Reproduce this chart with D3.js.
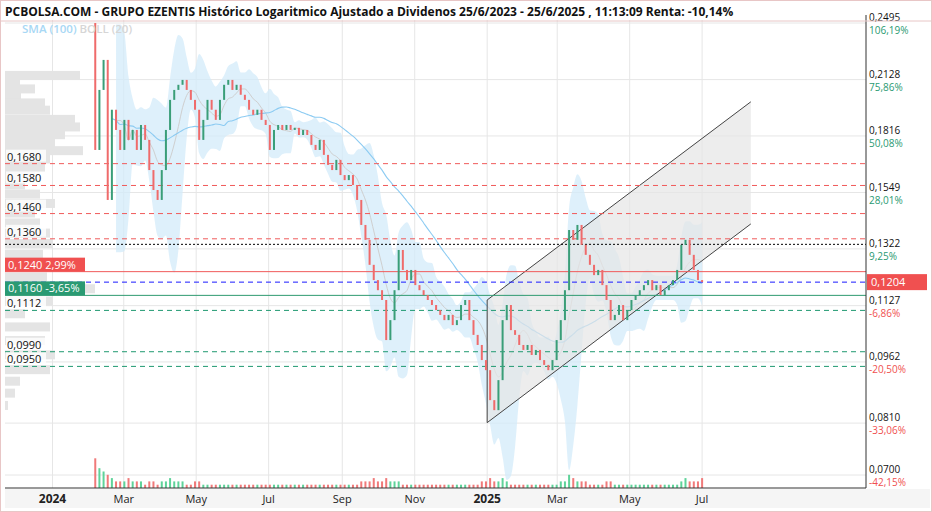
<!DOCTYPE html>
<html><head><meta charset="utf-8">
<script src="https://cdn.jsdelivr.net/npm/d3@7"></script>
<style>body{margin:0;background:#fff}svg{font-family:"Open Sans",sans-serif}</style>
</head><body><svg id="c" width="932" height="512"></svg>
<script>
const startDate = "2024-02-06";
const stepDays = 3.5;
const closes = [
0.1746,0.2067,0.2249,0.1517,0.1955,0.1847,0.1746,0.1900,0.1796,0.1847,
0.1746,0.1873,0.1796,0.1650,0.1560,0.1517,0.1650,0.1847,0.2010,0.2067,
0.2097,0.2126,0.2067,0.2010,0.1955,0.1796,0.1900,0.2010,0.1955,0.1900,
0.2010,0.2097,0.2126,0.2067,0.2097,0.2039,0.2010,0.1955,0.1927,0.1955,
0.1900,0.1873,0.1746,0.1847,0.1873,0.1847,0.1873,0.1847,0.1858,0.1821,
0.1847,0.1821,0.1771,0.1746,0.1796,0.1722,0.1674,0.1650,0.1698,0.1627,
0.1604,0.1627,0.1582,0.1517,0.1414,0.1356,0.1264,0.1211,0.1177,0.1145,
0.1023,0.1082,0.1177,0.1318,0.1246,0.1211,0.1246,0.1194,0.1177,0.1161,
0.1145,0.1129,0.1113,0.1098,0.1082,0.1098,0.1067,0.1082,0.1129,0.1145,
0.1082,0.1038,0.1009,0.0967,0.0940,0.0864,0.0840,0.0914,0.1082,0.1129,
0.1052,0.1038,0.1009,0.0995,0.1009,0.0981,0.0995,0.0967,0.0954,0.0940,
0.0967,0.1023,0.1082,0.1177,0.1394,0.1356,0.1414,0.1337,0.1300,0.1264,
0.1228,0.1246,0.1194,0.1145,0.1082,0.1098,0.1129,0.1082,0.1113,0.1145,
0.1161,0.1177,0.1194,0.1211,0.1177,0.1194,0.1161,0.1177,0.1194,0.1211,
0.1246,0.1337,0.1356,0.1300,0.1246,0.1211,0.1204];
const firstOpen = 0.2495;
const volumes = [
9,6,5,4,3,2,2,2,3,2, 2,2,1,2,2,1,2,2,3,2, 2,2,1,1,2,2,1,1,1,1,
1,1,1,1,1,1,1,1,1,1, 1,1,1,1,1,1,1,1,1,1, 1,1,1,1,1,1,1,1,1,1,
1,1,1,1,2,2,2,3,2,2, 3,2,2,2,1,1,1,1,1,1, 1,1,1,1,1,1,1,1,1,1,
1,1,1,2,2,3,2,2,3,2, 1,1,1,1,1,1,1,1,1,1, 1,1,2,2,4,3,2,2,2,1,
1,1,1,2,2,1,1,1,1,1, 1,1,1,1,1,1,1,1,1,1, 1,2,3,2,2,2,3];
const yTicks = [0.2495,0.2128,0.1816,0.1549,0.1322,0.1127,0.0962,0.0810,0.0700];
const refPrice = 0.121005;
const lastPrice = 0.1204;
const redLevels = [0.1680,0.1580,0.1460,0.1360];
const greenLevels = [0.1112,0.0990,0.0950];
const dottedLevel = 0.1339;
const resistLevel = {v:0.1240,pct:"2,99%"};
const supportLevel = {v:0.1160,pct:"-3,65%"};
const channelUpper = [["2025-01-01",0.1145],["2025-08-11",0.1999]];
const channelLower = [["2025-01-01",0.0811],["2025-08-11",0.1418]];
const profilePrices = [0.215,0.211,0.207,0.203,0.199,0.195,0.190,0.186,0.182,0.178,0.174,0.170,0.166,0.162,0.158,0.154,0.150,0.146,0.142,0.138,0.134,0.130,0.126,0.122,0.118,0.114,0.110,0.106,0.102,0.098,0.094,0.091,0.088,0.085];
const profileVals = [75,15,30,16,40,45,70,75,60,50,78,45,40,30,20,35,50,30,35,45,48,38,40,42,90,48,20,45,40,50,45,15,10,3];
const monthTicks = [["2024-01-01","2024",true],["2024-03-01","Mar"],["2024-05-01","May"],["2024-07-01","Jul"],["2024-09-01","Sep"],["2024-11-01","Nov"],["2025-01-01","2025",true],["2025-03-01","Mar"],["2025-05-01","May"],["2025-07-01","Jul"]];

const svg = d3.select("#c");
const L=5, R=866, T=20, B=488;
const parse = d3.utcParse("%Y-%m-%d");
const x = d3.scaleUtc().domain([parse("2023-11-22"), parse("2025-11-16")]).range([L,R]);
const y = d3.scaleLog().domain([0.07,0.2495]).range([475,23]);
const fmt = v => v.toFixed(4).replace(".",",");
const t0 = parse(startDate);
const data = closes.map((c,i)=>({d:new Date(+t0 + i*stepDays*864e5), c, o: i?closes[i-1]:firstOpen, v:volumes[i]||1}));

svg.append("rect").attr("x",0.5).attr("y",0.5).attr("width",931).attr("height",511).attr("fill","#fff").attr("stroke","#e8c6c6");
svg.append("defs").append("clipPath").attr("id","pc").append("rect").attr("x",L).attr("y",T).attr("width",R-L).attr("height",B-T);
const g = svg.append("g").attr("clip-path","url(#pc)");

g.selectAll(".hg").data(yTicks).join("line").attr("x1",L).attr("x2",R).attr("y1",d=>y(d)).attr("y2",d=>y(d)).attr("stroke","#e6e6e6");
g.selectAll(".vg").data(monthTicks).join("line").attr("x1",d=>x(parse(d[0]))).attr("x2",d=>x(parse(d[0]))).attr("y1",T).attr("y2",B).attr("stroke","#e6e6e6");

const bh = 10;
g.selectAll(".vp").data(profilePrices).join("rect").attr("x",L).attr("y",d=>y(d)-bh/2).attr("height",bh-1)
 .attr("width",(d,i)=>profileVals[i]).attr("fill","#e4e4e4");

const W=6, S=29;
const boll = data.map((d,i)=>{ if(i<W-1) return null; const w=closes.slice(i-W+1,i+1); const m=d3.mean(w), s=d3.deviation(w); return {d:d.d,m,u:m+2.3*s,l:Math.max(0.06,m-2.3*s)};}).filter(Boolean);
g.append("path").datum(boll).attr("d",d3.area().x(d=>x(d.d)).y0(d=>y(d.l)).y1(d=>y(d.u)).curve(d3.curveMonotoneX)).attr("fill","#d3ebfa").attr("opacity",0.75);
g.append("path").datum(boll).attr("d",d3.line().x(d=>x(d.d)).y(d=>y(d.m)).curve(d3.curveMonotoneX)).attr("fill","none").attr("stroke","#cfcfcf");
const sma = data.map((d,i)=>({d:d.d,m:d3.mean(closes.slice(Math.max(0,i-S+1),i+1))})).slice(4);
g.append("path").datum(sma).attr("d",d3.line().x(d=>x(d.d)).y(d=>y(d.m)).curve(d3.curveMonotoneX)).attr("fill","none").attr("stroke","#8ccbf2").attr("stroke-width",1.1);

const cu = channelUpper.map(d=>[x(parse(d[0])),y(d[1])]), cl = channelLower.map(d=>[x(parse(d[0])),y(d[1])]);
g.append("path").attr("d",d3.line()([cu[0],cu[1],cl[1],cl[0]])+"Z").attr("fill","#e6e6e6").attr("opacity",0.7);
[cu,cl].forEach(p=>g.append("line").attr("x1",p[0][0]).attr("y1",p[0][1]).attr("x2",p[1][0]).attr("y2",p[1][1]).attr("stroke","#444"));
g.append("line").attr("x1",cu[0][0]).attr("y1",cu[0][1]).attr("x2",cl[0][0]).attr("y2",cl[0][1]).attr("stroke","#444");

g.selectAll(".rl").data(redLevels).join("line").attr("x1",L).attr("x2",R).attr("y1",d=>y(d)).attr("y2",d=>y(d)).attr("stroke","#f05a5a").attr("stroke-dasharray","5,4");
g.selectAll(".gl").data(greenLevels).join("line").attr("x1",L).attr("x2",R).attr("y1",d=>y(d)).attr("y2",d=>y(d)).attr("stroke","#1f9970").attr("stroke-dasharray","5,4");
g.append("line").attr("x1",L).attr("x2",R).attr("y1",y(dottedLevel)).attr("y2",y(dottedLevel)).attr("stroke","#000").attr("stroke-dasharray","2,2");
g.append("line").attr("x1",L).attr("x2",R).attr("y1",y(resistLevel.v)).attr("y2",y(resistLevel.v)).attr("stroke","#f05a5a");
g.append("line").attr("x1",L).attr("x2",R).attr("y1",y(supportLevel.v)).attr("y2",y(supportLevel.v)).attr("stroke","#2e9a70");
g.append("line").attr("x1",L).attr("x2",R).attr("y1",y(lastPrice)).attr("y2",y(lastPrice)).attr("stroke","#1a1aff").attr("stroke-dasharray","5,4");

const vy = d3.scaleLinear().domain([0,10]).range([B,455]);
g.selectAll(".vol").data(data).join("rect").attr("x",d=>x(d.d)-1).attr("width",2).attr("y",d=>vy(d.v)).attr("height",d=>B-vy(d.v))
 .attr("fill",d=>d.c>=d.o?"#5fd39a":"#f07a7a");

g.selectAll(".cd").data(data).join("rect").attr("x",d=>x(d.d)-1).attr("width",2)
 .attr("y",d=>y(Math.max(d.o,d.c))).attr("height",d=>Math.max(1,Math.abs(y(d.o)-y(d.c))))
 .attr("fill",d=>d.c>=d.o?"#3a9e78":"#ef6b6b");

const lt = svg.append("g").attr("font-size",11).attr("fill","#111");
redLevels.concat(greenLevels).forEach(v=>{
  lt.append("rect").attr("x",L+1).attr("y",y(v)-14).attr("width",40).attr("height",12).attr("fill","#fff").attr("opacity",0.8);
  lt.append("text").attr("x",L+2).attr("y",y(v)-3).text(fmt(v));
});
[[resistLevel,"#f05050"],[supportLevel,"#2a9a72"]].forEach(([lv,c])=>{
  const yy=y(lv.v);
  svg.append("rect").attr("x",L).attr("y",yy-14).attr("width",80).attr("height",14).attr("fill",c);
  svg.append("text").attr("x",L+3).attr("y",yy-3).attr("font-size",11).attr("fill","#fff").text(fmt(lv.v)+"  "+lv.pct);
});

svg.append("line").attr("x1",R).attr("x2",R).attr("y1",T-5).attr("y2",B).attr("stroke","#333");
const ra = svg.append("g").attr("font-size",10);
yTicks.forEach(v=>{
  const yy=y(v), p=(v/refPrice-1)*100;
  ra.append("text").attr("x",R+3).attr("y",yy-2).attr("fill","#111").text(fmt(v));
  ra.append("text").attr("x",R+3).attr("y",yy+11).attr("fill",p>=0?"#2a9a72":"#f05050").text(p.toFixed(2).replace(".",",")+"%");
});
svg.append("rect").attr("x",R+1).attr("y",y(lastPrice)-8).attr("width",60).attr("height",16).attr("fill","#f05050");
svg.append("text").attr("x",R+5).attr("y",y(lastPrice)+4).attr("font-size",11).attr("fill","#fff").text(fmt(lastPrice));

svg.append("rect").attr("x",L).attr("y",B+1).attr("width",925).attr("height",19).attr("fill","#f5f5f5");
svg.append("line").attr("x1",L).attr("x2",R).attr("y1",B).attr("y2",B).attr("stroke","#333");
svg.selectAll(".mt").data(monthTicks).join("text").attr("x",d=>x(parse(d[0]))).attr("y",503).attr("text-anchor","middle")
 .attr("font-size",d=>d[2]?12:11).attr("font-weight",d=>d[2]?"bold":"normal").attr("fill","#222").text(d=>d[1]);

svg.append("text").attr("x",5).attr("y",16).attr("font-size",12).attr("font-weight","bold").attr("fill","#111")
 .text("PCBOLSA.COM - GRUPO EZENTIS Histórico Logaritmico Ajustado a Dividenos 25/6/2023 - 25/6/2025 , 11:13:09 Renta: -10,14%");
svg.append("line").attr("x1",0).attr("x2",932).attr("y1",21).attr("y2",21).attr("stroke","#e8c6c6");
const lg = svg.append("text").attr("x",22).attr("y",33).attr("font-size",11.5).attr("font-weight","600");
lg.append("tspan").attr("fill","#a8d8f5").text("SMA (100) ");
lg.append("tspan").attr("fill","#d6d6d6").text("BOLL (20)");
</script></body></html>
